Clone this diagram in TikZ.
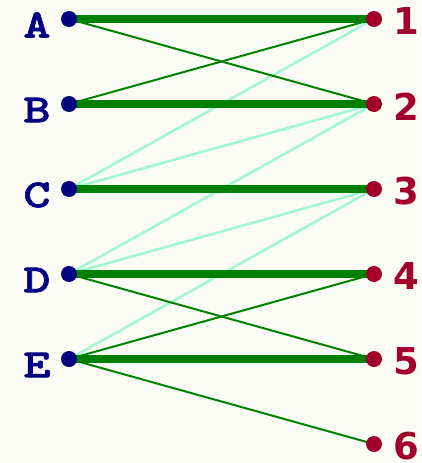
\documentclass[tikz,border=0pt]{standalone}
\usepackage{fontspec}
\newfontfamily\digitfont{DejaVu Sans}
\newfontfamily\letterfont{lmmonolt10-bold.otf}[FakeStretch=1.3,FakeBold=1.5]
\usetikzlibrary{positioning}
\definecolor{paper}{RGB}{252,252,246}
\definecolor{navydot}{RGB}{0,0,128}
\definecolor{reddot}{RGB}{162,0,42}
\definecolor{matchgreen}{RGB}{0,128,0}
\definecolor{palegreen}{RGB}{160,248,208}
\pgfdeclarelayer{edges}
\pgfsetlayers{edges,main}

\begin{document}
\begin{tikzpicture}[x=1pt,y=-1pt,
    dot/.style={circle,inner sep=0pt,minimum size=16pt},
    lefttag/.style={inner sep=0pt,text=navydot,font=\letterfont\fontsize{40}{40}\selectfont},
    righttag/.style={inner sep=0pt,text=reddot,font=\digitfont\bfseries\fontsize{37}{37}\selectfont},
    matched/.style={matchgreen,line width=8pt},
    plain/.style={matchgreen,line width=2pt},
    faint/.style={palegreen,line width=2.5pt}]
    \useasboundingbox (0,0) rectangle (421,463);
    % the two columns
    \foreach \n/\y in {A/19,B/104,C/189,D/274,E/359}{
        \node[dot,fill=navydot] (\n) at (69,\y) {};
        \node[lefttag,left=10pt of \n,yshift=-6pt] (\n-tag) {\n};
    }
    \foreach \n/\y in {1/19,2/104,3/189,4/274,5/359,6/444}{
        \node[dot,fill=reddot] (r\n) at (374,\y) {};
        \node[righttag,right=11pt of r\n,yshift=-2.5pt] (r\n-tag) {\n};
    }
    \begin{pgfonlayer}{edges}
        \fill[paper] (0,0) rectangle (421,463);
        \foreach \a/\b in {C/1,C/2,D/2,D/3,E/3}
            \draw[faint] (\a.center)--(r\b.center);
        \foreach \a/\b in {A/2,B/1,D/5,E/4,E/6}
            \draw[plain] (\a.center)--(r\b.center);
        \foreach \a/\b in {A/1,B/2,C/3,D/4,E/5}
            \draw[matched] (\a.center)--(r\b.center);
    \end{pgfonlayer}
\end{tikzpicture}
\end{document}
